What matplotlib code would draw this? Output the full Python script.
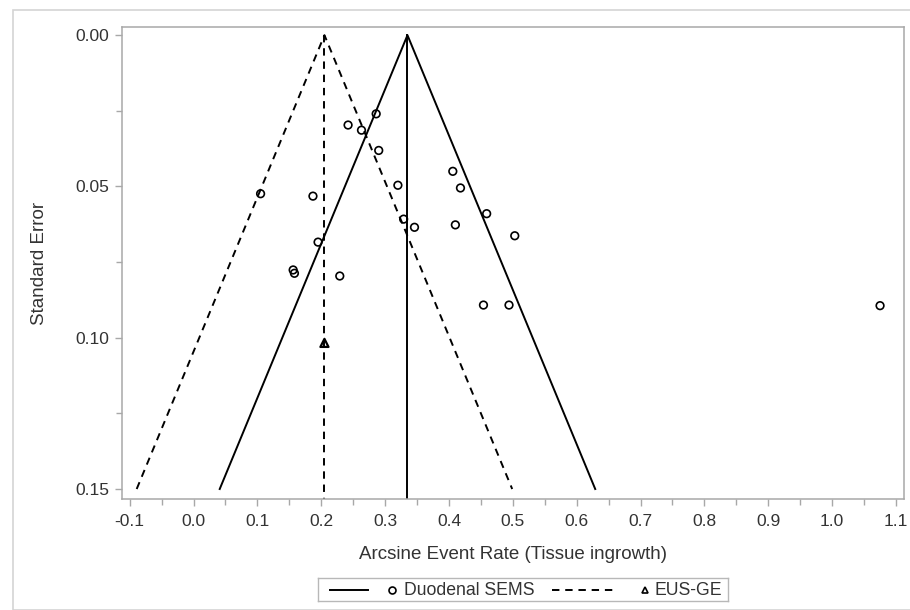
import matplotlib
matplotlib.use("Agg")
import matplotlib.pyplot as plt
from matplotlib.patches import Rectangle
from matplotlib.lines import Line2D
from matplotlib.ticker import MultipleLocator, FormatStrFormatter

plt.rcParams['font.family'] = ['Liberation Sans', 'DejaVu Sans']

# Duodenal SEMS studies: arcsine event rate and standard error
sems_rate = [0.286, 0.242, 0.263, 0.290, 0.406, 0.320, 0.418, 0.105, 0.187,
             0.459, 0.329, 0.346, 0.410, 0.503, 0.195, 0.156, 0.158, 0.229,
             0.454, 0.494, 1.075]
sems_se = [0.0260, 0.0297, 0.0314, 0.0381, 0.0450, 0.0496, 0.0505, 0.0524, 0.0532,
           0.0590, 0.0608, 0.0635, 0.0627, 0.0663, 0.0684, 0.0776, 0.0787, 0.0796,
           0.0892, 0.0892, 0.0894]
# EUS-GE studies
eus_rate = [0.205]
eus_se = [0.1017]

# pooled estimates and funnel extent
sems_pooled = 0.335
eus_pooled = 0.205
se_max = 0.15
z = 1.96

xticks = [-0.1, 0.0, 0.1, 0.2, 0.3, 0.4, 0.5, 0.6, 0.7, 0.8, 0.9, 1.0, 1.1]
yticks = [0.00, 0.05, 0.10, 0.15]

W, H = 910, 610
fig = plt.figure(figsize=(W / 100, H / 100), dpi=100)

# outer light frame
fig.patches.append(Rectangle((13 / W, 0), 1.2, 1 - 10 / H, transform=fig.transFigure,
                             fill=False, edgecolor='#d4d4d4', linewidth=1.2))

ax = fig.add_axes([122 / W, 1 - 499 / H, (904 - 122) / W, (499 - 27) / H])

lw = 1.4
dash = (0, (3.8, 3.0))
for p, ls in [(sems_pooled, '-'), (eus_pooled, dash)]:
    ax.plot([p - z * se_max, p, p + z * se_max], [se_max, 0, se_max],
            color='black', linewidth=lw, linestyle=ls)
    ax.plot([p, p], [0, 0.1533], color='black', linewidth=lw, linestyle=ls)

ax.scatter(sems_rate, sems_se, s=30, facecolors='none', edgecolors='black',
           linewidths=1.2, marker='o', zorder=3)
ax.scatter(eus_rate, eus_se, s=34, facecolors='none', edgecolors='black',
           linewidths=1.6, marker='^', zorder=3)

ax.set_xlim(-0.112, 1.1125)
ax.set_ylim(0.1533, -0.0027)
ax.set_xticks(xticks)
ax.set_yticks(yticks)
ax.xaxis.set_major_formatter(FormatStrFormatter('%.1f'))
ax.yaxis.set_major_formatter(FormatStrFormatter('%.2f'))
ax.xaxis.set_minor_locator(MultipleLocator(0.05))
ax.yaxis.set_minor_locator(MultipleLocator(0.025))

spine_c = '#a8a8a8'
for s in ax.spines.values():
    s.set_color(spine_c)
    s.set_linewidth(1.1)
ax.tick_params(which='both', direction='out', color=spine_c, width=1.0,
               labelsize=12.5, labelcolor='#333333')
ax.tick_params(which='major', length=5)
ax.tick_params(axis='x', which='major', pad=6)
ax.tick_params(axis='y', which='major', pad=4)
ax.tick_params(which='minor', length=4)

ax.set_xlabel('Arcsine Event Rate (Tissue ingrowth)', fontsize=13.5,
              color='#333333', labelpad=12)
ax.set_ylabel('Standard Error', fontsize=13.5, color='#333333', labelpad=20)

# legend box below the plot (pixel layout)
L0, L1 = 318, 728
lax = fig.add_axes([L0 / W, 1 - 601 / H, (L1 - L0) / W, (601 - 578) / H])
lax.set_xlim(L0, L1)
lax.set_ylim(0, 1)
lax.set_xticks([])
lax.set_yticks([])
for s in lax.spines.values():
    s.set_color('#b8b8b8')
    s.set_linewidth(1.0)
lax.add_line(Line2D([330, 368], [0.5, 0.5], color='black', linewidth=lw))
lax.plot([392], [0.5], marker='o', markersize=5, markerfacecolor='none',
         markeredgecolor='black', markeredgewidth=1.2)
lax.text(404, 0.47, 'Duodenal SEMS', fontsize=12.7, color='#333333',
         va='center', ha='left')
lax.add_line(Line2D([552, 618], [0.5, 0.5], color='black', linewidth=lw,
                    linestyle=dash))
lax.plot([645], [0.5], marker='^', markersize=5, markerfacecolor='none',
         markeredgecolor='black', markeredgewidth=1.2)
lax.text(655, 0.47, 'EUS-GE', fontsize=12.7, color='#333333',
         va='center', ha='left')

fig.savefig('out.png', dpi=100)
